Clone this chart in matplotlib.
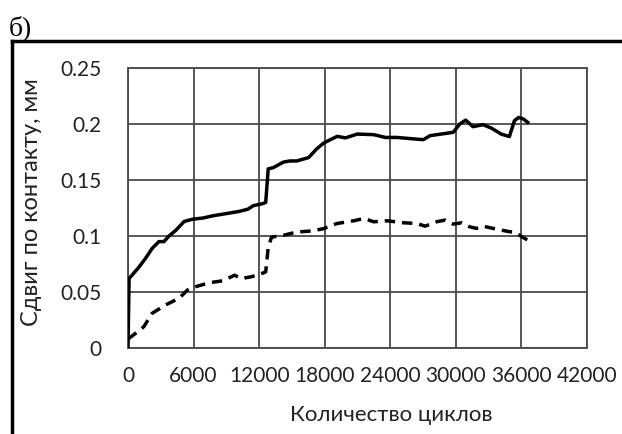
import matplotlib
matplotlib.use("Agg")
import matplotlib.pyplot as plt
from matplotlib.lines import Line2D

# solid curve
solid_x = [0, 100, 985, 1600, 2215, 2830, 3290, 3750, 4370, 5140, 5900, 6830,
           7750, 8980, 10200, 10990, 11450, 12370, 12600, 12830, 13290, 14220,
           14830, 15450, 16520, 17290, 17910, 18520, 19150, 19900, 20970, 22480,
           23550, 24600, 25800, 27030, 27640, 29150, 29760, 30360, 30900, 31570,
           32480, 33240, 34150, 34900, 35360, 35760, 36180, 36570]
solid_y = [0.0, 0.062, 0.072, 0.080, 0.089, 0.095, 0.095, 0.100, 0.105, 0.113,
           0.115, 0.116, 0.118, 0.120, 0.122, 0.124, 0.127, 0.129, 0.130, 0.160,
           0.161, 0.166, 0.167, 0.167, 0.170, 0.178, 0.183, 0.186, 0.189, 0.1876,
           0.191, 0.1905, 0.188, 0.188, 0.187, 0.186, 0.1896, 0.1917, 0.1926,
           0.200, 0.2035, 0.1976, 0.1994, 0.1964, 0.191, 0.1888, 0.203, 0.2059,
           0.2044, 0.2015]

# dashed curve
dash_x = [0, 677, 1446, 2215, 3446, 4677, 5446, 6215, 7446, 8677, 9754, 10370,
          11290, 12370, 12600, 12830, 13140, 14220, 15450, 16830, 17910, 18370,
          19150, 20670, 21580, 22480, 23700, 25210, 26420, 27180, 28240, 29000,
          29760, 30510, 31270, 31880, 32480, 33390, 34600, 35510, 36120, 36570]
dash_y = [0.008, 0.013, 0.019, 0.031, 0.0385, 0.0444, 0.0518, 0.0548, 0.0583,
          0.060, 0.065, 0.062, 0.0636, 0.067, 0.068, 0.090, 0.099, 0.1006, 0.1036,
          0.1045, 0.1066, 0.1086, 0.1112, 0.1136, 0.1157, 0.1127, 0.1136, 0.1118,
          0.1112, 0.1088, 0.1127, 0.1142, 0.1106, 0.1118, 0.1082, 0.1068, 0.1088,
          0.1068, 0.1044, 0.1029, 0.0988, 0.0964]

x_ticks = [0, 6000, 12000, 18000, 24000, 30000, 36000, 42000]
y_ticks = [0, 0.05, 0.1, 0.15, 0.2, 0.25]
y_labels = ["0", "0.05", "0.1", "0.15", "0.2", "0.25"]

plt.rcParams['font.family'] = ['Lato', 'DejaVu Sans']

fig = plt.figure(figsize=(6.22, 4.34), dpi=100)
ax = fig.add_axes([128/622, 1-348/434, 459/622, 280/434])

ax.plot(solid_x, solid_y, color='black', lw=2.5, solid_joinstyle='round', zorder=3)
ax.plot(dash_x, dash_y, color='black', lw=2.5, dashes=(3, 2), zorder=3)

ax.set_xlim(0, 42000)
ax.set_ylim(0, 0.25)
ax.set_xticks(x_ticks)
ax.set_yticks(y_ticks)
ax.set_yticklabels(y_labels)
ax.grid(True, color='#4a4a4a', lw=1.3)
for s in ax.spines.values():
    s.set_color('#4a4a4a')
    s.set_linewidth(1.3)
ax.tick_params(length=0, labelsize=15, colors='#222222')
ax.tick_params(axis='y', pad=19)
ax.tick_params(axis='x', pad=13)

ax.set_xlabel("Количество циклов", fontsize=16, color='#222222')
ax.xaxis.set_label_coords(0.573, -0.205)
ax.set_ylabel("Сдвиг по контакту, мм", fontsize=17, color='#222222')
ax.yaxis.set_label_coords(-0.187, 0.521)

# outer frame of the picture
fig.add_artist(Line2D([12/622, 1], [1-41/434, 1-41/434], color='black', lw=2.5,
                      transform=fig.transFigure))
fig.add_artist(Line2D([12/622, 12/622], [0, 1-41/434], color='black', lw=2.5,
                      transform=fig.transFigure))
fig.text(9/622, 1-35/434, "б)", family='Liberation Serif', fontsize=20)

fig.savefig("out.png", dpi=100)
